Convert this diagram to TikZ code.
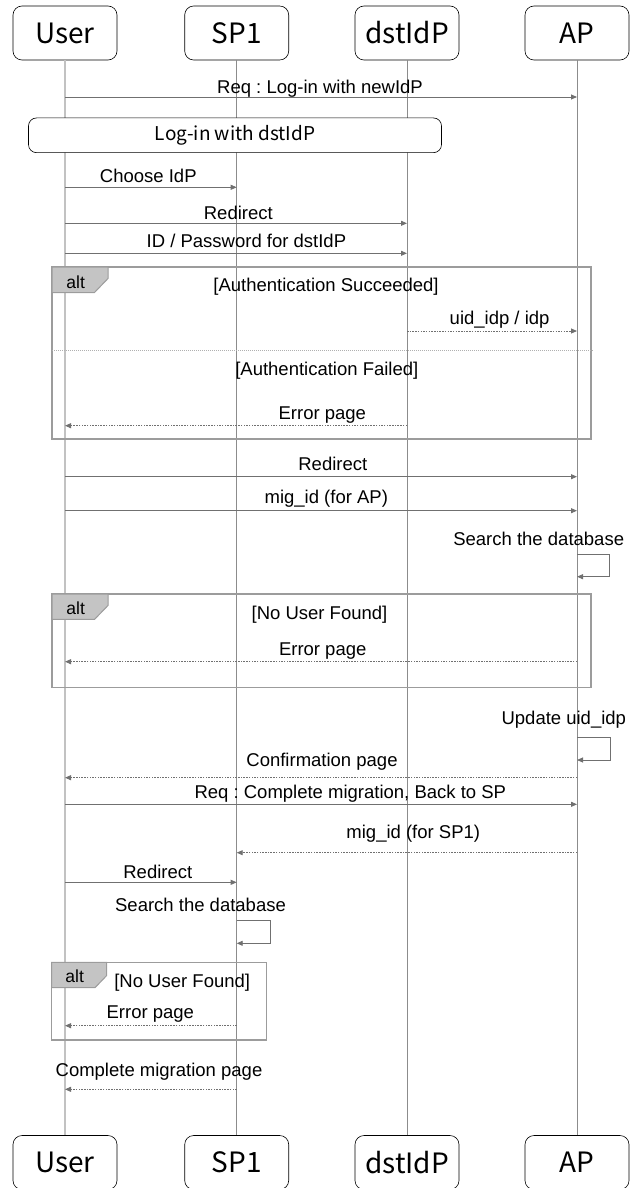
\documentclass[tikz,border=0pt]{standalone}
\usepackage{fontspec}
\setmainfont{Liberation Sans}
\newfontfamily\hdrfont{Noto Sans CJK JP}
\usetikzlibrary{arrows.meta}
\frenchspacing

\definecolor{lifegray}{HTML}{8C8C8C}
\definecolor{usergray}{HTML}{C2C2C2}
\definecolor{msggray}{HTML}{707070}
\definecolor{framegray}{HTML}{9C9C9C}
\definecolor{tabgray}{HTML}{C4C4C4}

\begin{document}
\begin{tikzpicture}[x=1pt,y=-1pt,
  actor/.style={draw=black, line width=0.6pt, rounded corners=9pt,
    minimum width=104pt, minimum height=54pt, inner sep=0pt,
    font=\hdrfont\fontsize{28}{30}\selectfont},
  lbl/.style={anchor=base, inner sep=0pt, font=\fontsize{18.5}{22}\selectfont},
  altlbl/.style={anchor=base, inner sep=0pt, font=\fontsize{17.5}{20}\selectfont},
  life/.style={draw=lifegray, line width=0.8pt},
  userlife/.style={draw=usergray, line width=1.8pt},
  msg/.style={draw=msggray, line width=0.9pt, -{Triangle[length=6pt,width=5pt]}},
  reply/.style={msg, dash pattern=on 1.5pt off 1.2pt},
  frame/.style={draw=framegray, line width=1.5pt},
  tab/.style={fill=tabgray, draw=framegray, line width=1pt},
  sep/.style={draw=framegray!80, line width=0.6pt, dash pattern=on 1pt off 1pt},
]
\useasboundingbox (0,0) rectangle (639,1188);

% participants, top and bottom
\node[actor] (uT) at (65,33) {User};
\node[actor] (sT) at (236.7,33) {SP1};
\node[actor] (dT) at (407,33) {dstIdP};
\node[actor] (aT) at (577,33) {AP};
\node[actor] (uB) at (65,1162.5) {User};
\node[actor] (sB) at (236.7,1162.5) {SP1};
\node[actor] (dB) at (407,1162.5) {dstIdP};
\node[actor] (aB) at (577,1162.5) {AP};

% lifelines
\draw[userlife] (uT.south) -- (uB.north);
\draw[life] (sT.south) -- (sB.north);
\draw[life] (dT.south) -- (dB.north);
\draw[life] (aT.south) -- (aB.north);

% first request
\node[lbl] (l1) at (320,93.3) {Req : Log-in with newIdP};
\draw[msg] (uT.south |- 0,97) -- (aT.south |- 0,97);

% reference box
\node[draw=black, line width=0.6pt, rounded corners=8pt, fill=white,
  minimum width=413pt, minimum height=34.7pt, inner sep=0pt,
  font=\hdrfont\fontsize{19}{22}\selectfont] (ref) at (235,135.3) {Log-in with dstIdP};

\node[lbl] (l2) at (148.3,182.7) {Choose IdP};
\draw[msg] (uT.south |- 0,187.3) -- (sT.south |- 0,187.3);
\node[lbl] (l3) at (238.3,219.3) {Redirect};
\draw[msg] (uT.south |- 0,223.3) -- (dT.south |- 0,223.3);
\node[lbl] (l4) at (246.4,247.3) {ID / Password for dstIdP};
\draw[msg] (uT.south |- 0,253.3) -- (dT.south |- 0,253.3);

% alt: authentication
\draw[frame] (52,267) rectangle (591,439);
\draw[tab] (52,267) -- (108,267) -- (108,278.5) -- (94.5,292.5) -- (52,292.5) -- cycle;
\node[altlbl] (a1) at (75.7,288.3) {alt};
\node[lbl] (l5) at (326,291) {[Authentication Succeeded]};
\node[lbl] (l6) at (499.6,324.3) {uid\_idp / idp};
\draw[reply] (dT.south |- 0,331) -- (aT.south |- 0,331);
\draw[sep] (52,350) -- (594,350);
\node[lbl] (l7) at (326.8,375) {[Authentication Failed]};
\node[lbl] (l8) at (322.3,419) {Error page};
\draw[reply] (dT.south |- 0,425.7) -- (uT.south |- 0,425.7);

\node[lbl] (l9) at (332.8,470) {Redirect};
\draw[msg] (uT.south |- 0,476.7) -- (aT.south |- 0,476.7);
\node[lbl] (l10) at (326.3,503.3) {mig\_id (for AP)};
\draw[msg] (uT.south |- 0,510.7) -- (aT.south |- 0,510.7);

\node[lbl] (l11) at (538.7,545) {Search the database};
\draw[msg] (aT.south |- 0,554) -- (609.3,554) -- (609.3,576.7) -- (aT.south |- 0,576.7);

% alt: user lookup at AP
\draw[frame] (52,594) rectangle (591,687.7);
\draw[tab] (52,594) -- (108,594) -- (108,605.5) -- (94.5,619.4) -- (52,619.4) -- cycle;
\node[altlbl] (a2) at (75.7,614) {alt};
\node[lbl] (l12) at (319.5,619.3) {[No User Found]};
\node[lbl] (l13) at (322.7,655) {Error page};
\draw[reply] (aT.south |- 0,661.7) -- (uT.south |- 0,661.7);

\node[lbl] (l14) at (563.8,724) {Update uid\_idp};
\draw[msg] (aT.south |- 0,737.7) -- (610.7,737.7) -- (610.7,760) -- (aT.south |- 0,760);
\node[lbl] (l15) at (322,766) {Confirmation page};
\draw[reply] (aT.south |- 0,777.7) -- (uT.south |- 0,777.7);
\node[lbl] (l16) at (350.3,798.3) {Req : Complete migration, Back to SP};
\draw[msg] (uT.south |- 0,804.3) -- (aT.south |- 0,804.3);
\node[lbl] (l17) at (413.3,838.3) {mig\_id (for SP1)};
\draw[reply] (aT.south |- 0,852.7) -- (sT.south |- 0,852.7);
\node[lbl] (l18) at (157.8,878.3) {Redirect};
\draw[msg] (uT.south |- 0,882.3) -- (sT.south |- 0,882.3);

\node[lbl] (l19) at (200.5,911.7) {Search the database};
\draw[msg] (sT.south |- 0,920.7) -- (270.7,920.7) -- (270.7,943.3) -- (sT.south |- 0,943.3);

% alt: user lookup at SP1
\draw[frame] (51.7,962.3) rectangle (266.7,1040);
\draw[tab] (51.7,962.3) -- (106.7,962.3) -- (106.7,975.5) -- (95,987.7) -- (51.7,987.7) -- cycle;
\node[altlbl] (a3) at (74.7,982.7) {alt};
\node[lbl] (l20) at (182.2,987.3) {[No User Found]};
\node[lbl] (l21) at (150.3,1018.3) {Error page};
\draw[reply] (sT.south |- 0,1025.7) -- (uT.south |- 0,1025.7);

\node[lbl] (l22) at (159,1076.7) {Complete migration page};
\draw[reply] (sT.south |- 0,1089.3) -- (uT.south |- 0,1089.3);
\end{tikzpicture}
\end{document}
